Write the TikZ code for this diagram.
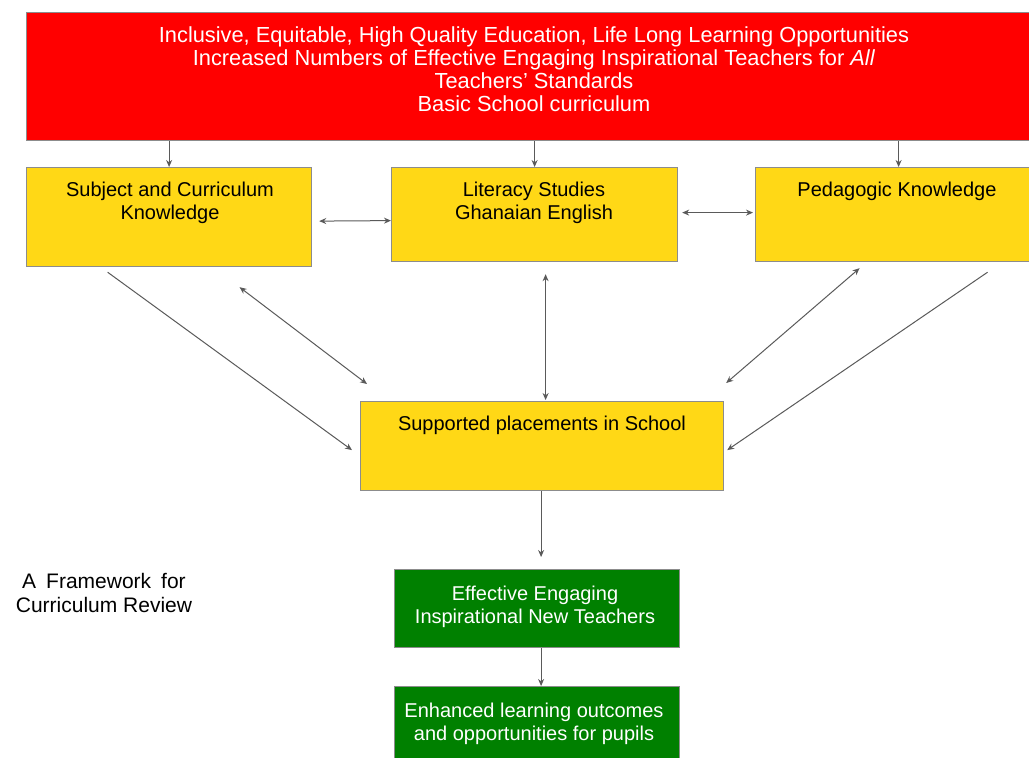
\documentclass[tikz,border=0pt]{standalone}
\usepackage{fontspec}
\setmainfont{Liberation Sans}
\usetikzlibrary{arrows.meta,calc}
\definecolor{rd}{HTML}{FF0000}
\definecolor{yl}{HTML}{FFD816}
\definecolor{gr}{HTML}{008000}
\definecolor{ln}{HTML}{5A5A5A}
\definecolor{bd}{HTML}{8C8C8C}
\begin{document}
\begin{tikzpicture}[x=1pt,y=-1pt,
  box/.style={draw=bd, line width=1.2pt, anchor=north west, inner sep=0pt},
  txt/.style={font=\fontsize{20}{23}\selectfont, align=center, anchor=north, inner sep=0pt},
  arr/.style={draw=ln, line width=1pt, -{Stealth[length=7pt,width=6pt]}},
  darr/.style={draw=ln, line width=1pt, {Stealth[length=7pt,width=6pt]}-{Stealth[length=7pt,width=6pt]}}]
\clip (0,0) rectangle (1029,758);
\fill[white] (0,0) rectangle (1029,758);
% boxes
\node[box, fill=rd, minimum width=1030pt, minimum height=128pt] (top) at (26,12) {};
\node[box, fill=yl, minimum width=285pt, minimum height=99pt] (subj) at (26,167) {};
\node[box, fill=yl, minimum width=286pt, minimum height=94pt] (lit) at (391,167) {};
\node[box, fill=yl, minimum width=286pt, minimum height=94pt] (ped) at (755,167) {};
\node[box, fill=yl, minimum width=363pt, minimum height=89pt] (sup) at (360,401) {};
\node[box, fill=gr, minimum width=285pt, minimum height=78pt] (eff) at (394,569) {};
\node[box, fill=gr, minimum width=285pt, minimum height=90pt] (enh) at (394,686) {};
% texts
\node[txt, text=white, font=\fontsize{21.8}{23}\selectfont] (toptxt) at (534,27) {Inclusive, Equitable, High Quality Education, Life Long Learning Opportunities\\Increased Numbers of Effective Engaging Inspirational Teachers for \textit{All}\\Teachers' Standards\\Basic School curriculum};
\node[txt] (subjtxt) at (170,182) {Subject and Curriculum\\Knowledge};
\node[txt] (littxt) at (534,182) {Literacy Studies\\Ghanaian English};
\node[txt] (pedtxt) at (897,182) {Pedagogic Knowledge};
\node[txt] (suptxt) at (542,416) {Supported placements in School};
\node[txt, text=white] (efftxt) at (535,586) {Effective Engaging\\Inspirational New Teachers};
\node[txt, text=white] (enhtxt) at (534,703) {Enhanced learning outcomes\\and opportunities for pupils};
\node[txt, font=\fontsize{21}{24}\selectfont] (title) at (104,573) {A\hspace{10pt}Framework\hspace{10pt}for\\Curriculum Review};
% connectors
\draw[arr] (subj.north |- top.south) -- (subj.north);
\draw[arr] (lit.north |- top.south) -- (lit.north);
\draw[arr] (ped.north |- top.south) -- (ped.north);
\draw[darr] ([shift={(7,4)}]subj.east) -- ([shift={(0,6)}]lit.west);
\draw[darr] ([shift={(4,-2)}]lit.east) -- ([shift={(-2,-2)}]ped.west);
\draw[darr] ([shift={(11,12)}]lit.south) -- ([shift={(11,-1)}]lit.south |- sup.north);
\draw[arr] ([shift={(-61.5,5)}]subj.south) -- ([shift={(-8,4)}]sup.west);
\draw[darr] ([shift={(70.5,20)}]subj.south) -- ([shift={(7,-17)}]sup.north west);
\draw[darr] ([shift={(-39,6)}]ped.south) -- ([shift={(2,-18)}]sup.north east);
\draw[arr] ([shift={(89,10)}]ped.south) -- ([shift={(3,4)}]sup.east);
\coordinate (s1) at ([xshift=4pt]sup.south -| eff.north);
\draw[arr] (s1) -- ([yshift=12pt]eff.north -| s1);
\draw[arr] (eff.south -| s1) -- (enh.north -| s1);
\end{tikzpicture}
\end{document}
